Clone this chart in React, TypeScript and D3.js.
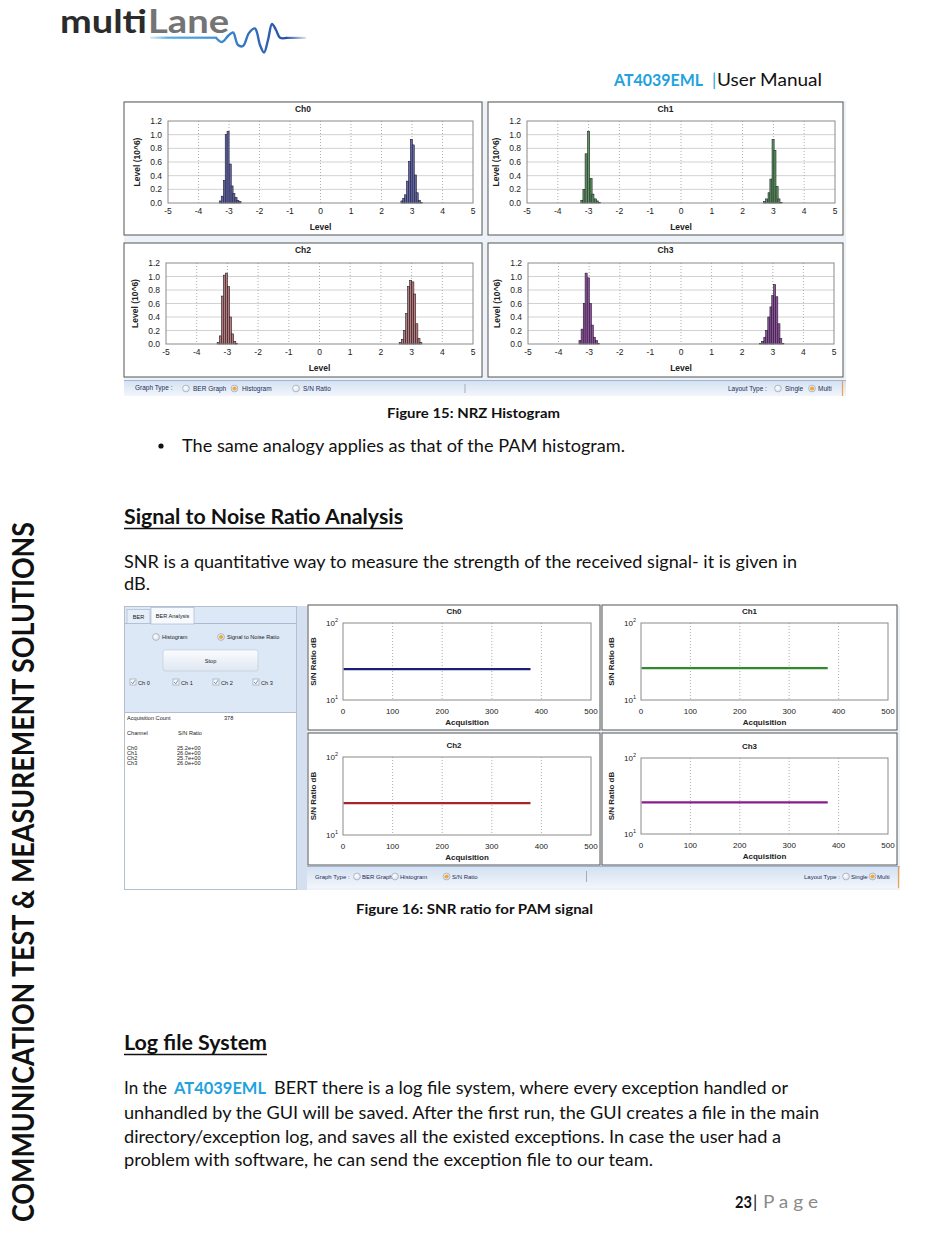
import React from 'react';
import * as d3 from 'd3';

// ---------------- DATA ----------------
const histChannels = ['Ch0', 'Ch1', 'Ch2', 'Ch3'];
const histColors = ['#6468ad', '#5f9a5c', '#bd7b78', '#94509f'];

const ch0Levels = [-3.28, -3.22, -3.15, -3.09, -3.03, -2.96, -2.90, -2.84, -2.77, -2.71, -2.64, 2.67, 2.73, 2.79, 2.85, 2.92, 2.98, 3.04, 3.11, 3.17, 3.24, 3.30];
const ch0Counts = [0.03, 0.10, 0.33, 1.00, 1.05, 0.57, 0.25, 0.14, 0.08, 0.04, 0.02, 0.03, 0.07, 0.12, 0.32, 0.61, 0.93, 0.85, 0.41, 0.15, 0.04, 0.01];

const ch1Levels = [-3.22, -3.15, -3.08, -3.00, -2.92, -2.86, -2.78, -2.72, -2.65, 2.71, 2.78, 2.86, 2.92, 2.99, 3.05, 3.12, 3.18, 3.25];
const ch1Counts = [0.04, 0.20, 0.72, 1.05, 0.36, 0.13, 0.06, 0.03, 0.01, 0.02, 0.06, 0.15, 0.35, 0.93, 0.77, 0.24, 0.06, 0.01];

const ch2Levels = [-3.30, -3.23, -3.16, -3.10, -3.03, -2.96, -2.90, -2.83, -2.76, -2.70, 2.63, 2.70, 2.77, 2.84, 2.90, 2.97, 3.04, 3.10, 3.17, 3.24, 3.30];
const ch2Counts = [0.02, 0.12, 0.71, 1.02, 1.05, 0.85, 0.40, 0.15, 0.04, 0.01, 0.02, 0.07, 0.20, 0.45, 0.85, 0.94, 0.92, 0.74, 0.30, 0.08, 0.02];

const ch3Levels = [-3.30, -3.23, -3.16, -3.10, -3.03, -2.96, -2.90, -2.83, -2.76, -2.70, 2.60, 2.67, 2.74, 2.80, 2.87, 2.94, 3.00, 3.06, 3.13, 3.20, 3.26, 3.33];
const ch3Counts = [0.05, 0.22, 0.60, 1.05, 0.98, 0.60, 0.28, 0.10, 0.05, 0.01, 0.01, 0.04, 0.10, 0.20, 0.40, 0.55, 0.72, 0.88, 0.70, 0.30, 0.08, 0.01];

const histLevels = [ch0Levels, ch1Levels, ch2Levels, ch3Levels];
const histCounts = [ch0Counts, ch1Counts, ch2Counts, ch3Counts];
const histXTicks = [-5, -4, -3, -2, -1, 0, 1, 2, 3, 4, 5];
const histYTicks = [0, 0.2, 0.4, 0.6, 0.8, 1.0, 1.2];

const snrChannels = ['Ch0', 'Ch1', 'Ch2', 'Ch3'];
const snrValues = [25.2, 26.0, 25.7, 26.0];
const snrValueLabels = ['25.2e+00', '26.0e+00', '25.7e+00', '26.0e+00'];
const snrColors = ['#1c1f78', '#2f8a2f', '#a52428', '#8a1b8c'];
const snrAcquisitions = [1, 378];
const acquisitionCount = 378;
const snrXTicks = [0, 100, 200, 300, 400, 500];

// ---------------- STYLE ----------------
const BODY = "Lato, 'Open Sans', sans-serif";
const UI = "'Liberation Sans', Arial, sans-serif";

type Box = [number, number, number, number];

function T({ x, y, w, size, weight, fill, children, anchor }: any) {
  return (
    <text x={x} y={y} fontFamily={BODY} fontSize={size} fontWeight={weight || 400} fill={fill || '#111'}
      textLength={w} lengthAdjust="spacingAndGlyphs" textAnchor={anchor || 'start'}>{children}</text>
  );
}

function Radio({ cx, cy, on }: any) {
  return (
    <g>
      <circle cx={cx} cy={cy} r={3.4} fill="url(#radioGrad)" stroke="#98a6b8" strokeWidth={0.7} />
      {on && <circle cx={cx} cy={cy} r={2.1} fill="#f2a640" />}
    </g>
  );
}

function HistPanel({ box, plot, idx }: { box: Box; plot: Box; idx: number }) {
  const x = d3.scaleLinear().domain([-5, 5]).range([plot[0], plot[2]]);
  const y = d3.scaleLinear().domain([0, 1.2]).range([plot[3], plot[1]]);
  const color = histColors[idx];
  const bw = 0.068;
  const levels = histLevels[idx];
  const counts = histCounts[idx];
  const fmt = d3.format('.1f');
  return (
    <g>
      <rect x={box[0]} y={box[1]} width={box[2] - box[0]} height={box[3] - box[1]} fill="#fff" stroke="#555" strokeWidth={1} />
      <text x={(box[0] + box[2]) / 2} y={box[1] + 10} textAnchor="middle" fontFamily={UI} fontSize={8.5} fontWeight={700} fill="#222">{histChannels[idx]}</text>
      {histYTicks.slice(1, -1).map(t => (
        <line key={'h' + t} x1={plot[0]} x2={plot[2]} y1={y(t)} y2={y(t)} stroke="#d2d2d2" strokeWidth={1} />
      ))}
      {histXTicks.slice(1, -1).map(t => (
        <line key={'v' + t} x1={x(t)} x2={x(t)} y1={plot[1]} y2={plot[3]} stroke="#9a9a9a" strokeWidth={0.8} strokeDasharray="1,2" />
      ))}
      {levels.map((l, i) => (
        <rect key={i} x={x(l - bw / 2)} y={y(counts[i])} width={x(bw) - x(0)} height={y(0) - y(counts[i])}
          fill={color} stroke="#1d1d2a" strokeWidth={0.6} />
      ))}
      <rect x={plot[0]} y={plot[1]} width={plot[2] - plot[0]} height={plot[3] - plot[1]} fill="none" stroke="#8a8a8a" strokeWidth={1} />
      {histYTicks.map(t => (
        <text key={'yl' + t} x={plot[0] - 6} y={y(t) + 3} textAnchor="end" fontFamily={UI} fontSize={8.5} fill="#222">{fmt(t)}</text>
      ))}
      {histXTicks.map(t => (
        <text key={'xl' + t} x={x(t)} y={plot[3] + 11} textAnchor="middle" fontFamily={UI} fontSize={8.5} fill="#222">{t}</text>
      ))}
      <text x={(plot[0] + plot[2]) / 2} y={plot[3] + 27} textAnchor="middle" fontFamily={UI} fontSize={8.5} fontWeight={700} fill="#222">Level</text>
      <text transform={`translate(${plot[0] - 28},${(plot[1] + plot[3]) / 2}) rotate(-90)`} textAnchor="middle"
        fontFamily={UI} fontSize={8.5} fontWeight={700} fill="#222">Level (10^6)</text>
    </g>
  );
}

function SnrPanel({ box, plot, idx }: { box: Box; plot: Box; idx: number }) {
  const x = d3.scaleLinear().domain([0, 500]).range([plot[0], plot[2]]);
  const y = d3.scaleLog().domain([10, 100]).range([plot[3], plot[1]]);
  const pts: [number, number][] = snrAcquisitions.map(a => [a, snrValues[idx]]);
  const line = d3.line<[number, number]>().x(d => x(d[0])).y(d => y(d[1]));
  return (
    <g>
      <rect x={box[0]} y={box[1]} width={box[2] - box[0]} height={box[3] - box[1]} fill="#fff" stroke="#555" strokeWidth={1} />
      <text x={(box[0] + box[2]) / 2} y={plot[1] - 9} textAnchor="middle" fontFamily={UI} fontSize={8} fontWeight={700} fill="#222">{snrChannels[idx]}</text>
      {snrXTicks.slice(1, -1).map(t => (
        <line key={'v' + t} x1={x(t)} x2={x(t)} y1={plot[1]} y2={plot[3]} stroke="#9a9a9a" strokeWidth={0.8} strokeDasharray="1,2" />
      ))}
      <path d={line(pts) || ''} fill="none" stroke={snrColors[idx]} strokeWidth={2.2} />
      <rect x={plot[0]} y={plot[1]} width={plot[2] - plot[0]} height={plot[3] - plot[1]} fill="none" stroke="#8a8a8a" strokeWidth={1} />
      {[100, 10].map(t => (
        <text key={t} x={plot[0] - 5} y={y(t) + 3} textAnchor="end" fontFamily={UI} fontSize={8} fill="#222">
          10<tspan dy={-4} fontSize={5.5}>{t === 100 ? '2' : '1'}</tspan>
        </text>
      ))}
      {snrXTicks.map(t => (
        <text key={'xl' + t} x={x(t)} y={plot[3] + 14} textAnchor="middle" fontFamily={UI} fontSize={8} fill="#222">{t}</text>
      ))}
      <text x={(plot[0] + plot[2]) / 2} y={plot[3] + 25} textAnchor="middle" fontFamily={UI} fontSize={8} fontWeight={700} fill="#222">Acquisition</text>
      <text transform={`translate(${plot[0] - 27},${(plot[1] + plot[3]) / 2}) rotate(-90)`} textAnchor="middle"
        fontFamily={UI} fontSize={8} fontWeight={700} fill="#222">S/N Ratio dB</text>
    </g>
  );
}

function Logo() {
  const wave: [number, number][] = [[216, 37.7], [222, 42], [228, 36], [233, 32.5], [238, 45], [243, 46], [249, 33], [255, 28.5], [260, 45], [264, 52.5], [268, 40], [272, 24], [276, 30], [280, 37.7], [287, 37.9]];
  const wl = d3.line<[number, number]>().curve(d3.curveCatmullRom.alpha(0.5));
  return (
    <g>
      <text x={60} y={33} fontFamily="Lato, 'DejaVu Sans', sans-serif" fontWeight={700} fontSize={32} fill="#2b2b2b" textLength={87} lengthAdjust="spacingAndGlyphs">multi</text>
      <text x={148} y={33} fontFamily="Lato, 'DejaVu Sans', sans-serif" fontWeight={700} fontSize={32} fill="#747474" textLength={81} lengthAdjust="spacingAndGlyphs">Lane</text>
      <rect x={150} y={36.6} width={67} height={2.2} fill="url(#waveL)" />
      <path d={wl(wave) || ''} fill="none" stroke="url(#waveM)" strokeWidth={2.4} />
      <rect x={286} y={36.8} width={20} height={2.2} fill="url(#waveR)" />
    </g>
  );
}

function Figure15() {
  const panels: { box: Box; plot: Box }[] = [
    { box: [124, 102, 482, 235], plot: [168, 121, 473, 203] },
    { box: [488, 102, 843, 235], plot: [527, 121, 835, 203] },
    { box: [124, 243, 482, 377], plot: [166, 263, 473, 344] },
    { box: [488, 243, 843, 377], plot: [528, 263, 834, 344] },
  ];
  const f = { fontFamily: UI, fontSize: 6.5, fill: '#1b2d5a' } as any;
  return (
    <g>
      <rect x={124} y={101} width={722} height={295} fill="#edf2f8" />
      {panels.map((p, i) => <HistPanel key={i} box={p.box} plot={p.plot} idx={i} />)}
      <rect x={124} y={380} width={722} height={16} fill="url(#barGrad)" />
      <line x1={124} x2={846} y1={380.5} y2={380.5} stroke="#9fb5d4" />
      <text x={135} y={390} {...f}>Graph Type :</text>
      <Radio cx={186} cy={388.5} />
      <text x={193} y={390.5} {...f}>BER Graph</text>
      <Radio cx={234.5} cy={388.5} on />
      <text x={242} y={390.5} {...f}>Histogram</text>
      <Radio cx={296} cy={388.5} />
      <text x={303} y={390.5} {...f}>S/N Ratio</text>
      <line x1={465} x2={465} y1={384} y2={393} stroke="#aab" />
      <text x={728} y={390.5} {...f}>Layout Type :</text>
      <Radio cx={778} cy={388.5} />
      <text x={785} y={390.5} {...f}>Single</text>
      <Radio cx={812} cy={388.5} on />
      <text x={818} y={390.5} {...f}>Multi</text>
      <line x1={842.5} x2={842.5} y1={381} y2={396} stroke="#f0a048" strokeWidth={1.2} />
    </g>
  );
}

function Figure16() {
  const panels: { box: Box; plot: Box }[] = [
    { box: [308, 605, 600, 730], plot: [343, 623, 591, 700] },
    { box: [602, 605, 897, 730], plot: [641, 623, 888, 700] },
    { box: [308, 733, 600, 865], plot: [343, 757, 591, 835] },
    { box: [602, 733, 897, 865], plot: [641, 758, 888, 834] },
  ];
  const s = { fontFamily: UI, fontSize: 5.6, fill: '#1a1a1a' } as any;
  const f = { fontFamily: UI, fontSize: 6, fill: '#1b2d5a' } as any;
  const rowY = [749.5, 754.5, 759.5, 764.8];
  const checkX = [130, 173, 213, 253];
  return (
    <g>
      <rect x={124} y={606} width={776} height={284} fill="#edf2f8" />
      {/* left control panel */}
      <rect x={124.5} y={606.5} width={172} height={283} fill="#fff" stroke="#b3bfcd" />
      <rect x={125} y={607} width={171} height={105} fill="#dce8f6" />
      <line x1={125} x2={296} y1={712.5} y2={712.5} stroke="#b3bfcd" />
      <line x1={125} x2={296} y1={623.5} y2={623.5} stroke="#a9bbd2" />
      <rect x={127} y={609.5} width={23} height={14} fill="#e4edf8" stroke="#a9bbd2" strokeWidth={0.7} />
      <text x={138.5} y={618.5} textAnchor="middle" {...s}>BER</text>
      <rect x={151} y={607.5} width={43} height={16.5} fill="#f6f9fd" stroke="#a9bbd2" strokeWidth={0.7} />
      <text x={172.5} y={617.5} textAnchor="middle" {...s}>BER Analysis</text>
      <Radio cx={156} cy={637} />
      <text x={162} y={639} {...s}>Histogram</text>
      <Radio cx={221} cy={637} on />
      <text x={227} y={639} {...s}>Signal to Noise Ratio</text>
      <rect x={163} y={650} width={95} height={21} rx={2} fill="url(#btnGrad)" stroke="#c2ccd9" strokeWidth={0.7} />
      <text x={210.5} y={663} textAnchor="middle" {...s}>Stop</text>
      {snrChannels.map((c, i) => (
        <g key={c}>
          <rect x={checkX[i]} y={679} width={6} height={6} fill="#f5f8fc" stroke="#8d9aab" strokeWidth={0.6} />
          <path d={`M${checkX[i] + 1.2},${682} l1.5,1.8 l2.4,-3.6`} fill="none" stroke="#6c7a8c" strokeWidth={0.8} />
          <text x={checkX[i] + 8} y={684.5} {...s}>{c.replace('Ch', 'Ch ')}</text>
        </g>
      ))}
      <text x={127} y={720} {...s}>Acquisition Count</text>
      <text x={224} y={720} {...s}>{acquisitionCount}</text>
      <text x={127} y={735} {...s}>Channel</text>
      <text x={178} y={735} {...s}>S/N Ratio</text>
      {snrChannels.map((c, i) => (
        <g key={'r' + c}>
          <text x={127} y={rowY[i]} {...s}>{c}</text>
          <text x={177} y={rowY[i]} {...s}>{snrValueLabels[i]}</text>
        </g>
      ))}
      <rect x={297} y={606} width={10} height={284} fill="#d4e0ef" />
      {panels.map((p, i) => <SnrPanel key={i} box={p.box} plot={p.plot} idx={i} />)}
      <rect x={307} y={866} width={593} height={22} fill="url(#barGrad)" />
      <line x1={307} x2={900} y1={866.5} y2={866.5} stroke="#9fb5d4" />
      <text x={315} y={878.5} {...f}>Graph Type :</text>
      <Radio cx={357} cy={876.5} />
      <text x={362} y={878.5} {...f}>BER Graph</text>
      <Radio cx={395} cy={876.5} />
      <text x={400} y={878.5} {...f}>Histogram</text>
      <Radio cx={446.5} cy={876.5} on />
      <text x={452} y={878.5} {...f}>S/N Ratio</text>
      <line x1={586.5} x2={586.5} y1={871} y2={882} stroke="#aab" />
      <text x={804} y={878.5} {...f}>Layout Type :</text>
      <Radio cx={846} cy={876.5} />
      <text x={851} y={878.5} {...f}>Single</text>
      <Radio cx={872.5} cy={876.5} on />
      <text x={877} y={878.5} {...f}>Multi</text>
      <line x1={898.5} x2={898.5} y1={867} y2={888} stroke="#f0a048" strokeWidth={1.2} />
    </g>
  );
}

export default function App() {
  return (
    <svg width={950} height={1241} viewBox="0 0 950 1241" style={{ position: 'absolute', left: 0, top: 0, background: '#fff' }}>
      <defs>
        <linearGradient id="waveL" x1="0" x2="1" y1="0" y2="0">
          <stop offset="0" stopColor="#8ac6ec" stopOpacity={0.35} />
          <stop offset="0.25" stopColor="#5ab0e4" />
          <stop offset="1" stopColor="#3d8fd6" />
        </linearGradient>
        <linearGradient id="waveM" gradientUnits="userSpaceOnUse" x1="216" x2="287" y1="0" y2="0">
          <stop offset="0" stopColor="#3d8fd6" />
          <stop offset="1" stopColor="#2a4fa5" />
        </linearGradient>
        <linearGradient id="waveR" x1="0" x2="1" y1="0" y2="0">
          <stop offset="0" stopColor="#2a4fa5" />
          <stop offset="1" stopColor="#2a4fa5" stopOpacity={0.15} />
        </linearGradient>
        <linearGradient id="barGrad" x1="0" x2="0" y1="0" y2="1">
          <stop offset="0" stopColor="#d3e0f1" />
          <stop offset="1" stopColor="#f2f6fb" />
        </linearGradient>
        <linearGradient id="btnGrad" x1="0" x2="0" y1="0" y2="1">
          <stop offset="0" stopColor="#fbfcfe" />
          <stop offset="1" stopColor="#dfe7f2" />
        </linearGradient>
        <radialGradient id="radioGrad" cx="0.4" cy="0.4" r="0.7">
          <stop offset="0" stopColor="#ffffff" />
          <stop offset="1" stopColor="#d5dce6" />
        </radialGradient>
      </defs>

      <Logo />

      <text x={614} y={86} fontFamily={BODY} fontSize={17} fontWeight={700} fill="#1fa3dd" textLength={89} lengthAdjust="spacingAndGlyphs">AT4039EML</text>
      <text x={712} y={86} fontFamily={BODY} fontSize={17} fill="#1fa3dd">|</text>
      <T x={717} y={86} w={105} size={17.5}>User Manual</T>

      <Figure15 />

      <T x={387} y={418} w={173} size={13.5} weight={700}>Figure 15: NRZ Histogram</T>

      <circle cx={161} cy={446} r={2.6} fill="#111" />
      <T x={182} y={452} w={443} size={17}>The same analogy applies as that of the PAM histogram.</T>

      <T x={124} y={524} w={279} size={20.5} weight={700}>Signal to Noise Ratio Analysis</T>
      <line x1={124} x2={403} y1={528.5} y2={528.5} stroke="#111" strokeWidth={1.3} />

      <T x={124} y={568} w={673} size={17}>SNR is a quantitative way to measure the strength of the received signal- it is given in</T>
      <T x={124} y={590} w={26} size={17}>dB.</T>

      <Figure16 />

      <T x={356} y={914} w={237} size={13.5} weight={700}>Figure 16: SNR ratio for PAM signal</T>

      <T x={124} y={1050} w={143} size={20.5} weight={700}>Log file System</T>
      <line x1={124} x2={267} y1={1054.5} y2={1054.5} stroke="#111" strokeWidth={1.3} />

      <T x={124} y={1094} w={43} size={17}>In the</T>
      <T x={174} y={1094} w={92} size={17} weight={700} fill="#1fa3dd">AT4039EML</T>
      <T x={274} y={1094} w={514} size={17}>BERT there is a log file system, where every exception handled or</T>
      <T x={124} y={1119} w={695} size={17}>unhandled by the GUI will be saved. After the first run, the GUI creates a file in the main</T>
      <T x={124} y={1143} w={657} size={17}>directory/exception log, and saves all the existed exceptions. In case the user had a</T>
      <T x={124} y={1166} w={529} size={17}>problem with software, he can send the exception file to our team.</T>

      <T x={735} y={1208} w={17} size={17} weight={700}>23</T>
      <text x={753} y={1208} fontFamily={BODY} fontSize={17} fill="#111">|</text>
      <T x={763} y={1208} w={55} size={17} fill="#8a8a8a">P a g e</T>

      <text transform="translate(34,872) rotate(-90)" textAnchor="middle" fontFamily={BODY} fontWeight={700}
        fontSize={30} fill="#111" textLength={700} lengthAdjust="spacingAndGlyphs">COMMUNICATION TEST &amp; MEASUREMENT SOLUTIONS</text>
    </svg>
  );
}
